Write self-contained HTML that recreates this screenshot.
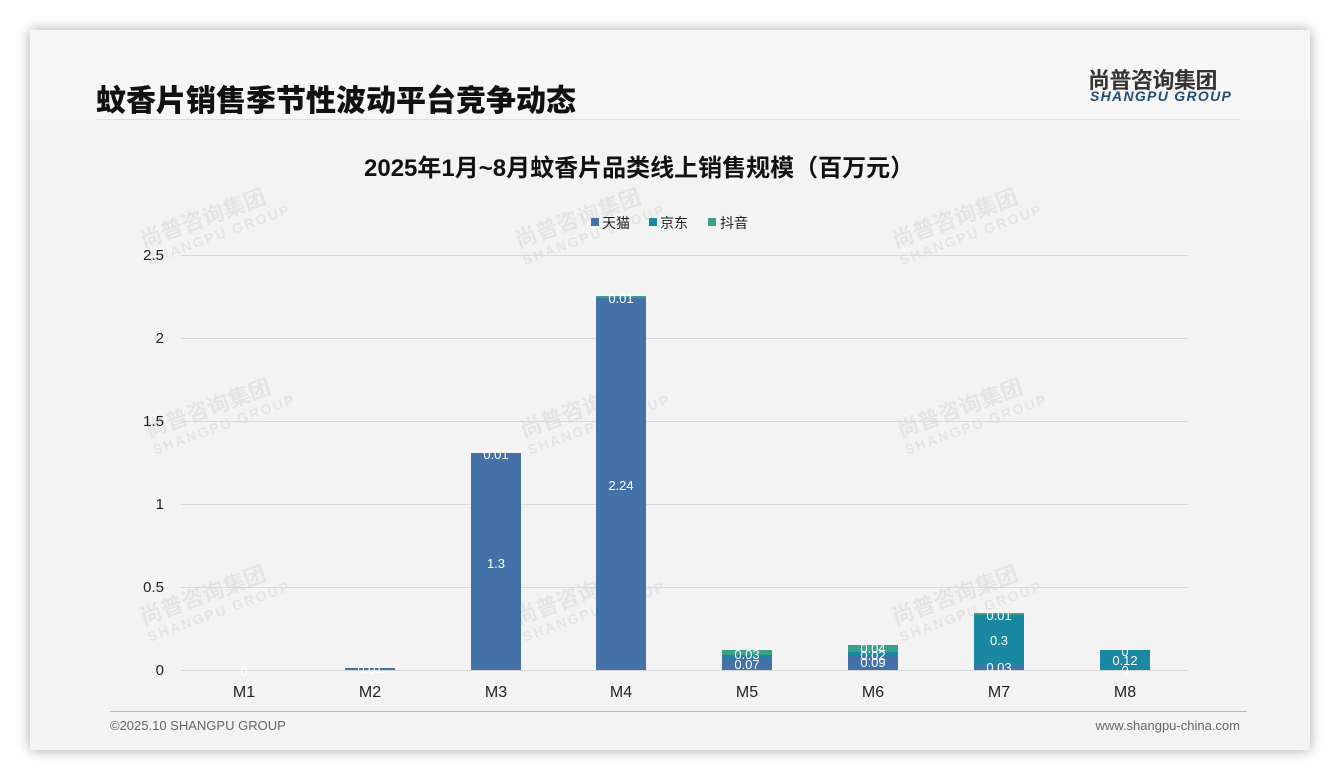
<!DOCTYPE html><html><head><meta charset="utf-8"><style>
body{margin:0;width:1340px;height:780px;background:#fff;font-family:"Liberation Sans","Noto Sans CJK SC",sans-serif;position:relative;overflow:hidden}
.card{position:absolute;left:30px;top:30px;width:1280px;height:720px;background:#f3f3f3;box-shadow:0 0 12px rgba(0,0,0,.35)}
.hdr{position:absolute;left:0;top:0;width:1280px;height:90px;background:#f6f6f6}
.t{position:absolute;left:66px;top:46px;font-size:30px;font-weight:900;color:#111}
.t2{position:absolute;left:334px;top:118px;font-size:24px;font-weight:bold;color:#111}
.wm{position:absolute;color:rgba(0,0,0,.06);font-weight:bold;transform:rotate(-20deg);font-size:22px;line-height:20px}
.wm span{font-size:14px;letter-spacing:2px;display:block}
</style></head><body>
<div class="card">
<div class="hdr"></div>
<div class="t">蚊香片销售季节性波动平台竞争动态</div>
<div style="position:absolute;left:1058px;top:33px;font-size:22px;font-weight:bold;color:#333;letter-spacing:-0.5px">尚普咨询集团</div>
<div style="position:absolute;left:1060px;top:58px;font-size:14px;font-weight:bold;font-style:italic;color:#1f4e79;letter-spacing:1.3px">SHANGPU GROUP</div>
<div style="position:absolute;left:66px;top:89px;width:1144px;height:1px;background:#ddd"></div>
<div class="t2">2025年1月~8月蚊香片品类线上销售规模（百万元）</div>
<div style="position:absolute;left:80px;top:681px;width:1137px;height:1px;background:#a9bdd4"></div>
<div style="position:absolute;left:80px;top:688px;font-size:13px;color:#666">©2025.10 SHANGPU GROUP</div>
<div style="position:absolute;right:70px;top:688px;font-size:13px;color:#666">www.shangpu-china.com</div>
</div>
<div class="wm" style="left:140px;top:205px">尚普咨询集团<span>SHANGPU GROUP</span></div>
<div class="wm" style="left:515px;top:205px">尚普咨询集团<span>SHANGPU GROUP</span></div>
<div class="wm" style="left:892px;top:205px">尚普咨询集团<span>SHANGPU GROUP</span></div>
<div class="wm" style="left:145px;top:395px">尚普咨询集团<span>SHANGPU GROUP</span></div>
<div class="wm" style="left:520px;top:395px">尚普咨询集团<span>SHANGPU GROUP</span></div>
<div class="wm" style="left:897px;top:395px">尚普咨询集团<span>SHANGPU GROUP</span></div>
<div class="wm" style="left:140px;top:582px">尚普咨询集团<span>SHANGPU GROUP</span></div>
<div class="wm" style="left:515px;top:582px">尚普咨询集团<span>SHANGPU GROUP</span></div>
<div class="wm" style="left:892px;top:582px">尚普咨询集团<span>SHANGPU GROUP</span></div>
<svg width="1340" height="780" style="position:absolute;left:0;top:0" font-family="Liberation Sans, Noto Sans CJK SC, sans-serif">
<g stroke="#d9d9d9"><line x1="181" x2="1188" y1="255.5" y2="255.5"/><line x1="181" x2="1188" y1="338.5" y2="338.5"/><line x1="181" x2="1188" y1="421.5" y2="421.5"/><line x1="181" x2="1188" y1="504.5" y2="504.5"/><line x1="181" x2="1188" y1="587.5" y2="587.5"/><line x1="181" x2="1188" y1="670.5" y2="670.5"/></g>
<g font-size="15" fill="#222" text-anchor="end"><text x="164" y="260">2.5</text><text x="164" y="343">2</text><text x="164" y="426">1.5</text><text x="164" y="509">1</text><text x="164" y="592">0.5</text><text x="164" y="675">0</text></g>
<g font-size="16" fill="#222" text-anchor="middle"><text x="244" y="697">M1</text><text x="370" y="697">M2</text><text x="496" y="697">M3</text><text x="621" y="697">M4</text><text x="747" y="697">M5</text><text x="873" y="697">M6</text><text x="999" y="697">M7</text><text x="1125" y="697">M8</text></g>
<g font-size="14" fill="#222"><rect x="591" y="218" width="8" height="8" fill="#4472a8"/><text x="602" y="228">天猫</text><rect x="649" y="218" width="8" height="8" fill="#1a88a0"/><text x="660" y="228">京东</text><rect x="708" y="218" width="8" height="8" fill="#3aa08c"/><text x="720" y="228">抖音</text></g>
<g fill="#4472a8"><rect x="345" y="668" width="50" height="2"/><rect x="471" y="454" width="50" height="216"/><rect x="596" y="298" width="50" height="372"/><rect x="722" y="658" width="50" height="12"/><rect x="848" y="655" width="50" height="15"/><rect x="974" y="665" width="50" height="5"/></g>
<g fill="#1a88a0"><rect x="471" y="453" width="50" height="1"/><rect x="722" y="655" width="50" height="3"/><rect x="848" y="652" width="50" height="3"/><rect x="974" y="615" width="50" height="50"/><rect x="1100" y="650" width="50" height="20"/></g>
<g fill="#3aa08c"><rect x="596" y="296" width="50" height="2"/><rect x="722" y="650" width="50" height="5"/><rect x="848" y="645" width="50" height="7"/><rect x="974" y="613" width="50" height="2"/></g>
<g font-size="13" fill="#fff" text-anchor="middle"><text x="244" y="676">0</text><text x="370" y="673">0.01</text><text x="496" y="459">0.01</text><text x="496" y="568">1.3</text><text x="621" y="303">0.01</text><text x="621" y="490">2.24</text><text x="747" y="659">0.03</text><text x="747" y="669">0.07</text><text x="873" y="653">0.04</text><text x="873" y="660">0.02</text><text x="873" y="667">0.09</text><text x="999" y="620">0.01</text><text x="999" y="645">0.3</text><text x="999" y="672">0.03</text><text x="1125" y="656">0</text><text x="1125" y="665">0.12</text><text x="1125" y="675">0</text></g>
</svg>
</body></html>
